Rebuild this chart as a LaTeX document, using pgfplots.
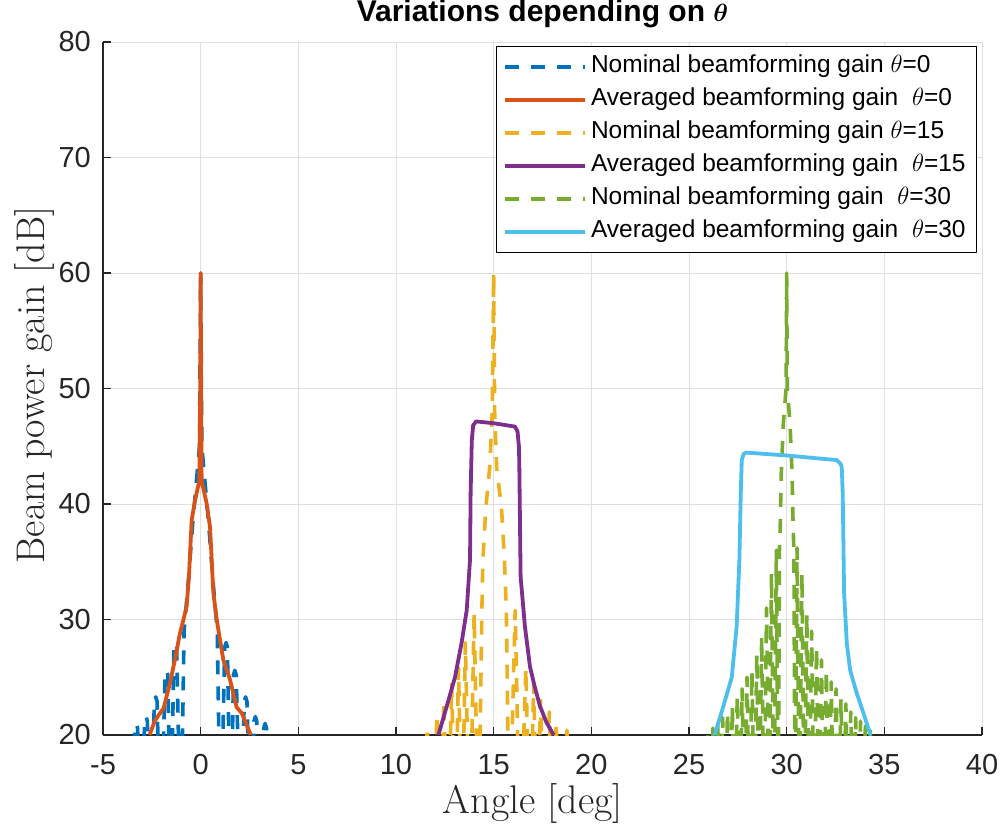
\documentclass[border=0pt]{standalone}
\usepackage{fontspec}
\usepackage{amsmath}
\usepackage{pgfplots}
\pgfplotsset{compat=1.18}
\newfontfamily\arial{Liberation Sans}
\definecolor{mblue}{rgb}{0,0.447,0.741}
\definecolor{morange}{rgb}{0.850,0.325,0.098}
\definecolor{myellow}{rgb}{0.929,0.694,0.125}
\definecolor{mpurple}{rgb}{0.494,0.184,0.556}
\definecolor{mgreen}{rgb}{0.466,0.674,0.188}
\definecolor{mcyan}{rgb}{0.301,0.745,0.933}
\definecolor{axgray}{rgb}{0.15,0.15,0.15}
\definecolor{gridgray}{rgb}{0.875,0.875,0.875}
\begin{document}
\begin{tikzpicture}
\useasboundingbox (-103pt,-90pt) rectangle (900pt,735pt);
\begin{axis}[
  at={(0pt,0pt)}, anchor=south west,
  scale only axis, width=879pt, height=693pt,
  xmin=-5, xmax=40, ymin=20, ymax=80,
  xtick={-5,0,...,40}, xticklabels={-5,0,5,10,15,20,25,30,35,40},
  ytick={20,30,...,80}, yticklabels={20,30,40,50,60,70,80},
  axis x line*=bottom, axis y line*=left,
  axis line style={color=axgray, line width=1.1pt},
  tick style={color=axgray, line width=1.1pt},
  tick align=inside, major tick length=8pt,
  grid=major, major grid style={color=gridgray, line width=0.9pt},
  xticklabel style={font=\arial\fontsize{29}{34}\selectfont, anchor=base, yshift=-39pt, text=axgray},
  yticklabel style={font=\arial\fontsize{29}{34}\selectfont, anchor=east, inner sep=0pt, xshift=-12pt, text=axgray},
  xlabel={Angle [deg]},
  xlabel style={at={(axis description cs:0.489,-0.1126)}, anchor=base, font=\fontsize{40}{46}\selectfont, text=axgray},
  ylabel={Beam power gain [dB]},
  ylabel style={at={(axis description cs:-0.0660,0.505)}, anchor=base, font=\fontsize{40}{46}\selectfont, text=axgray},
  title={Variations depending on $\boldsymbol{\theta}$},
  title style={at={(axis description cs:0.5,1.0202)}, anchor=base, font=\arial\bfseries\fontsize{30}{36}\selectfont},
  legend image code/.code={\draw[#1] (0pt,0pt) -- (80pt,0pt);},
  legend cell align=left,
  legend style={at={(1,1)}, anchor=north east, xshift=-5pt, yshift=-4pt,
    draw=black, line width=0.8pt, fill=white,
    inner xsep=7pt, inner ysep=4pt,
    font=\arial\fontsize{24.5}{28}\selectfont,
    nodes={inner xsep=4pt, inner ysep=5pt, text height=17pt, text depth=6pt}},
  line join=round,
]
% theta=0 nominal
\addplot[mblue, line width=3.6pt, dash pattern=on 14pt off 12pt] coordinates {
(-3.6,10) (-3.37,20.6) (-3.3,21) (-3.23,20.6) (-3.05,10) (-2.87,21.2) (-2.8,21.6) (-2.73,21.2) (-2.58,10)
(-2.37,22.9) (-2.3,23.3) (-2.23,22.9) (-2.05,10) (-1.82,25.2) (-1.75,25.6) (-1.68,25.2) (-1.53,10)
(-1.37,27.6) (-1.3,28) (-1.23,27.6) (-1.02,10) (-0.85,29) (-0.75,31) (-0.6,34) (-0.4,38.5) (-0.2,42.3) (-0.06,45)
(0,60)
(0.06,45) (0.2,42.3) (0.4,38.5) (0.6,34) (0.75,31) (0.85,29) (1.02,10) (1.23,27.6) (1.3,28) (1.37,27.6) (1.53,10)
(1.68,25.2) (1.75,25.6) (1.82,25.2) (2.05,10) (2.23,22.9) (2.3,23.3) (2.37,22.9) (2.58,10)
(2.73,21.2) (2.8,21.6) (2.87,21.2) (3.05,10) (3.23,20.6) (3.3,21) (3.37,20.6) (3.6,10)
};
\addlegendentry{Nominal beamforming gain $\theta$=0}
% theta=0 averaged
\addplot[morange, line width=3.8pt] coordinates {
(-2.62,20) (-2.35,21.2) (-2.08,21.9) (-1.9,22.3) (-1.57,24.5) (-1.32,26.5) (-1.06,28.8) (-0.85,30.2)
(-0.72,31.1) (-0.6,33.7) (-0.46,38.6) (-0.29,40.3) (-0.07,42) (-0.02,50) (0,60) (0.02,50) (0.05,42)
(0.3,40.1) (0.48,38) (0.65,32.3) (0.82,30) (1.16,26.5) (1.5,24.8) (1.84,22.4) (2.1,21.9) (2.52,20.2) (2.56,20)
};
\addlegendentry{Averaged beamforming gain\ \ $\theta$=0}
% theta=15 nominal
\addplot[myellow, line width=3.6pt, dash pattern=on 14pt off 12pt] coordinates {
(11.35,10) (11.6,20.7) (11.85,10) (12.1,21.8) (12.28,10) (12.45,23) (12.65,10) (12.85,24.5) (13.03,10)
(13.2,25.8) (13.38,10) (13.55,28) (13.78,10) (14.0,30.5) (14.22,10)
(14.4,31.2) (14.45,35.2) (14.6,39.7) (14.8,43.2) (14.93,48) (15,60) (15.05,48) (15.15,43.2) (15.4,39.7)
(15.55,35.2) (15.65,30.8) (15.8,10)
(16.1,30.8) (16.35,10) (16.65,25.8) (16.85,10) (17.05,24.5) (17.22,10) (17.4,23) (17.6,10) (17.85,22)
(18.02,10) (18.2,21) (18.45,10) (18.75,20.4) (19.0,10)
};
\addlegendentry{Nominal beamforming gain $\theta$=15}
% theta=15 averaged
\addplot[mpurple, line width=3.8pt] coordinates {
(12.17,20) (12.6,22.5) (13.02,25) (13.36,28) (13.62,30.8) (13.79,35.2) (13.82,40.9) (13.88,45.5) (13.95,46.8)
(14.1,47.15) (14.98,47.0) (16.09,46.7) (16.22,46.3) (16.29,45) (16.31,43.8) (16.38,33.7) (16.6,29.4)
(16.86,25.9) (17.1,24.2) (17.37,22.5) (17.7,21.1) (18.07,20)
};
\addlegendentry{Averaged beamforming gain\ \ $\theta$=15}
% theta=30 nominal
\addplot[mgreen, line width=3.6pt, dash pattern=on 14pt off 12pt] coordinates {
(25.85,12) (25.97,20.2) (26.1,12) (26.22,20.6) (26.35,12) (26.47,21.0) (26.6,12) (26.72,21.5) (26.85,12)
(26.97,22.0) (27.1,12) (27.22,22.5) (27.35,12) (27.47,23.4) (27.6,12) (27.72,24.0) (27.85,12)
(27.97,25.0) (28.1,12) (28.22,25.5) (28.35,12) (28.47,27.0) (28.6,12) (28.72,28.5) (28.85,12)
(28.97,31.0) (29.1,12) (29.22,34.0) (29.35,12) (29.47,36.0) (29.57,12)
(29.63,36) (29.67,38) (29.72,42.5) (29.83,47) (29.97,50) (30,60) (30.03,50) (30.17,47) (30.28,42.5)
(30.33,38) (30.37,36) (30.43,12)
(30.53,36.2) (30.65,12) (30.78,34.0) (30.9,12) (31.03,30.5) (31.15,12) (31.28,29.0) (31.4,12)
(31.53,27.6) (31.65,12) (31.78,26.5) (31.9,12) (32.03,25.6) (32.15,12) (32.28,24.6) (32.4,12)
(32.53,24.0) (32.65,12) (32.78,23.1) (32.9,12) (33.03,22.7) (33.15,12) (33.28,22.0) (33.4,12)
(33.53,21.5) (33.65,12) (33.78,21.2) (33.9,12) (34.03,20.8) (34.15,12) (34.28,20.4) (34.4,12)
};
\addlegendentry{Nominal beamforming gain\ \ $\theta$=30}
% theta=30 averaged
\addplot[mcyan, line width=3.8pt] coordinates {
(26.31,20) (26.76,22.5) (27.19,25) (27.44,29.4) (27.58,35.2) (27.65,40.9) (27.7,43.8) (27.8,44.35)
(27.95,44.45) (30,44.2) (32.56,43.8) (32.75,43.5) (32.82,43.2) (32.87,40.9) (32.94,32.3) (33.08,27.9)
(33.25,25.6) (33.59,23.6) (33.93,21.9) (34.29,20)
};
\addlegendentry{Averaged beamforming gain\ \ $\theta$=30}
\end{axis}
\end{tikzpicture}
\end{document}
